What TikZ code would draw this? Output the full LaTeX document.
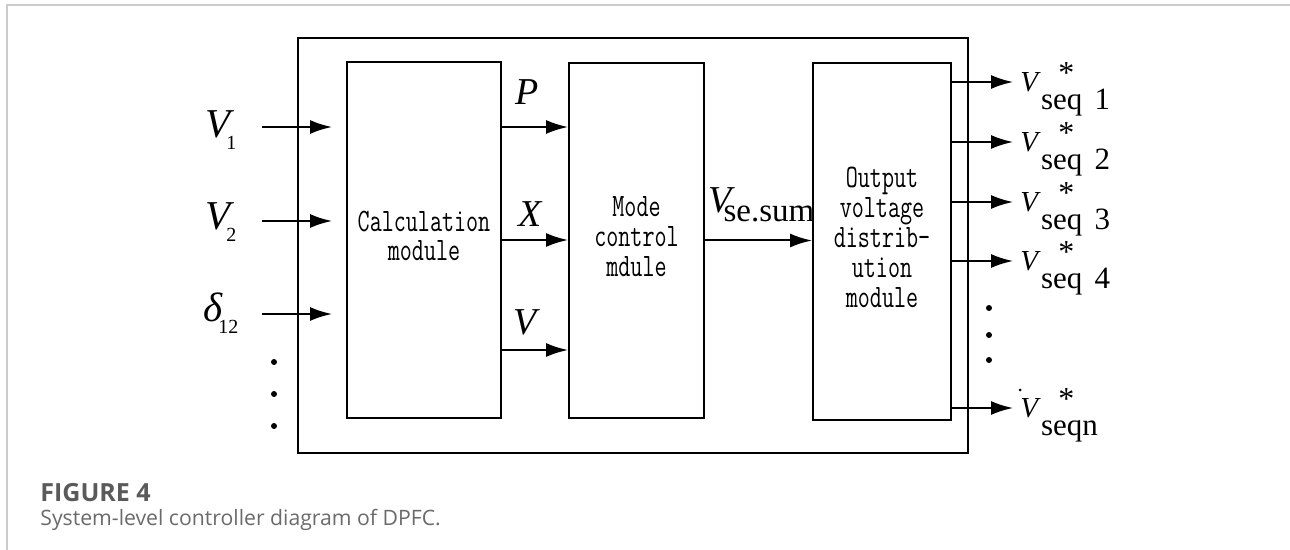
\documentclass[tikz,border=0pt]{standalone}
\usepackage{fontspec}
\setmainfont{Liberation Serif}
\newfontfamily\capfont{Open Sans}
\usetikzlibrary{arrows.meta}
\definecolor{framegray}{HTML}{CCCCCC}
\definecolor{numgray}{HTML}{5A5A5A}
\definecolor{capgray}{HTML}{6A6A6A}
\def\insig#1#2{{\itshape #1}\kern-0.1em\raisebox{-0.28em}{\fontsize{10}{10}\selectfont #2}}
\def\vseq#1{{\itshape V}\hspace{0.1em}\rlap{\hspace{0.6em}\raisebox{4pt}{\fontsize{16}{16}\selectfont *}}\raisebox{-9pt}{\fontsize{15.5}{16}\selectfont seq#1}}
\def\modtext#1{\scalebox{1}[1.4]{\begin{tabular}{@{}c@{}}#1\end{tabular}}}
\tikzset{
	module/.style={draw, line width=1pt, align=center, font=\ttfamily\fontsize{11.7}{10.7}\selectfont},
	sig/.style={line width=1pt, -{Latex[length=11pt,width=7pt]}},
	lbl/.style={inner sep=0pt, font=\fontsize{19}{19}\selectfont},
}

\begin{document}
\begin{tikzpicture}[x=0.5pt,y=-0.5pt]
			%%%%% START %%%%%
			\useasboundingbox (0,0) rectangle (1290,550);
			\draw[line width=1pt, color=framegray] (7,550) -- (7,5) -- (1290,5);
			
			\draw[line width=1pt] (298,38) rectangle (968,453);
			
			\node[module, minimum width=77pt, minimum height=178pt] (calc) at (424,240) {\modtext{Calculation\\module}};
			\node[module, minimum width=67.5pt, minimum height=177.5pt] (mode) at (636.5,240.5) {\modtext{Mode\\control\\mdule}};
			\node[module, minimum width=69pt, minimum height=178.5pt] (dist) at (882,241.5) {\modtext{Output\\voltage\\distrib-\\ution\\module}};
			
			% inputs
			\foreach \i/\y in {1/127, 2/221, 3/314} {
				\coordinate (a\i) at (262,\y);
				\coordinate (b\i) at (332,\y);
				\draw[sig] (a\i) -- (b\i);
			}
			\node[lbl, anchor=base west, font=\fontsize{20.5}{20.5}\selectfont] (v1) at (205,138) {\insig{V}{1}};
			\node[lbl, anchor=base west, font=\fontsize{20.5}{20.5}\selectfont] (v2) at (205,230) {\insig{V}{2}};
			\node[lbl, anchor=base west, font=\fontsize{20.5}{20.5}\selectfont] (d12) at (203,322) {\insig{δ}{12}};
			\foreach \y in {362,394,426}
				\fill (274,\y) circle (3);
			
			% calculation outputs
			\foreach \y [count=\i] in {127,240,350} {
				\coordinate (c\i) at (0,\y);
				\draw[sig] (calc.east |- c\i) -- (mode.west |- c\i);
			}
			\node[lbl, anchor=base] (p) at (527,105) {\itshape P};
			\node[lbl, anchor=base] (x) at (530,227) {\itshape X};
			\node[lbl, anchor=base] (v) at (525,335) {\itshape V};
			
			\draw[sig] (mode.east) -- (mode.east -| dist.west);
			\node[lbl, anchor=base west] (vsum) at (708,213) {{\itshape V}\kern-4pt\raisebox{-4.5pt}{\fontsize{16.5}{16.5}\selectfont se.sum}};
			
			% outputs
			\foreach \y/\t [count=\i] in {82/\hspace{0.4em}1, 142/\hspace{0.4em}2, 202/\hspace{0.4em}3, 261/\hspace{0.4em}4, 408/n} {
				\coordinate (o\i) at (1013,\y);
				\draw[sig] (dist.east |- o\i) -- (o\i);
				\node[lbl, anchor=base west, font=\fontsize{14.5}{16}\selectfont] (vs\i) at ([xshift=3.5pt,yshift=-5pt]o\i) {\vseq{\t}};
			}
			\foreach \y in {308,335,360}
				\fill (989,\y) circle (3);
			\fill (1020,390) circle (1.5);
			
			% caption
			\node[inner sep=0pt, anchor=base west, text=numgray, font=\capfont\bfseries\fontsize{12.5}{14}\selectfont] (fignum) at (40,502) {FIGURE 4};
			\node[inner sep=0pt, anchor=base west, text=capgray, font=\capfont\fontsize{10.6}{12}\selectfont] (figcap) at (40,525) {System-level controller diagram of DPFC.};
			%%%%% END %%%%%
\end{tikzpicture}
\end{document}
